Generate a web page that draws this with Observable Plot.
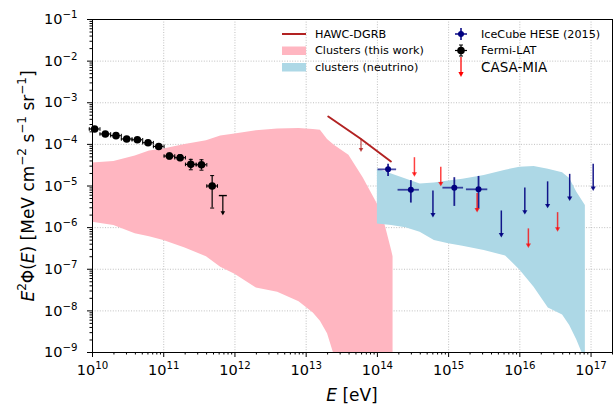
<!DOCTYPE html>
<html>
<head>
<meta charset="utf-8">
<script src="https://cdn.jsdelivr.net/npm/d3@7"></script>
<script src="https://cdn.jsdelivr.net/npm/@observablehq/plot@0.6"></script>
<style>
  html, body { margin: 0; padding: 0; background: #fff; }
  svg { display: block; }
</style>
</head>
<body>
<script>
// ---------- data (log10 values) ----------
const xTickExps = [10, 11, 12, 13, 14, 15, 16, 17];
const yTickExps = [-9, -8, -7, -6, -5, -4, -3, -2, -1];

// Clusters (this work) band
const pinkLogE = [10.0, 10.3, 10.6, 10.8, 11.0, 11.3, 11.6, 11.8, 12.0, 12.3, 12.6, 12.9, 13.1, 13.2, 13.3, 13.4, 13.6, 13.8, 14.0, 14.1, 14.2, 14.22];
const pinkHigh = [-4.45, -4.41, -4.28, -4.16, -4.11, -4.00, -3.91, -3.80, -3.75, -3.67, -3.63, -3.62, -3.64, -3.66, -3.88, -4.03, -4.26, -4.80, -5.43, -5.88, -6.55, -6.70];
const pinkLow  = [-5.87, -5.95, -6.15, -6.22, -6.31, -6.49, -6.70, -6.95, -7.12, -7.45, -7.55, -7.78, -8.05, -8.25, -8.55, -9.10, -12, -12, -12, -12, -12, -12];

// clusters (neutrino) band
const blueLogE = [14.0, 14.2, 14.4, 14.6, 14.8, 15.0, 15.2, 15.5, 15.8, 16.0, 16.2, 16.4, 16.6, 16.7, 16.8, 16.92];
const blueHigh = [-4.59, -4.71, -4.83, -4.95, -4.93, -4.88, -4.84, -4.75, -4.62, -4.55, -4.53, -4.60, -4.68, -4.82, -5.15, -5.47];
const blueLow  = [-5.91, -5.95, -6.00, -6.11, -6.31, -6.39, -6.45, -6.55, -6.68, -7.02, -7.43, -7.93, -8.10, -8.35, -8.70, -9.20];

// HAWC-DGRB
const hawcLogE = [13.31, 13.76, 14.19];
const hawcLogY = [-3.33, -3.86, -4.41];
const hawcULLogE = [13.77];
const hawcULLogY = [-3.87];

// Fermi-LAT
const fermiLogE  = [10.03, 10.18, 10.33, 10.48, 10.63, 10.78, 10.93, 11.08, 11.23, 11.38, 11.53, 11.68];
const fermiLogY  = [-3.63, -3.75, -3.79, -3.87, -3.89, -3.96, -4.05, -4.28, -4.32, -4.48, -4.49, -5.00];
const fermiErrLo = [0.04, 0.04, 0.04, 0.04, 0.04, 0.04, 0.04, 0.07, 0.07, 0.13, 0.13, 0.53];
const fermiErrHi = [0.04, 0.04, 0.04, 0.04, 0.04, 0.04, 0.04, 0.07, 0.07, 0.12, 0.12, 0.25];
const fermiHalfBin = 0.075;
const fermiULLogE = [11.83];
const fermiULLogY = [-5.23];

// IceCube HESE (2015)
const iceLogE  = [14.15, 14.47, 15.08, 15.42];
const iceLogY  = [-4.60, -5.09, -5.04, -5.08];
const iceXLo   = [14.01, 14.29, 14.92, 15.25];
const iceXHi   = [14.27, 14.59, 15.21, 15.55];
const iceYLo   = [-4.77, -5.41, -5.49, -5.55];
const iceYHi   = [-4.48, -4.87, -4.80, -4.77];
const iceULLogE = [14.78, 15.74, 16.07, 16.39, 16.70, 17.03];
const iceULLogY = [-5.12, -5.60, -5.05, -4.90, -4.72, -4.48];

// CASA-MIA
const casaLogE = [14.52, 14.89, 15.40, 16.12, 16.53];
const casaLogY = [-4.32, -4.55, -5.18, -6.03, -5.64];

// ---------- helpers ----------
const P = v => 10 ** v;
const tickLabel = d => "10^" + Math.round(Math.log10(d));

const xMajor = xTickExps.map(P);
const yMajor = yTickExps.map(P);
const xMinor = [];
for (let e = 10; e <= 17; e++) for (let k = 2; k <= 9; k++) { const v = k * 10 ** e; if (v <= 2e17) xMinor.push(v); }
const yMinor = [];
for (let e = -9; e < -1; e++) for (let k = 2; k <= 9; k++) yMinor.push(k * 10 ** e);

const pink = pinkLogE.map((e, i) => ({x: P(e), lo: P(pinkLow[i]), hi: P(pinkHigh[i])}));
const blue = blueLogE.map((e, i) => ({x: P(e), lo: P(blueLow[i]), hi: P(blueHigh[i])}));
const hawc = hawcLogE.map((e, i) => ({x: P(e), y: P(hawcLogY[i])}));
const fermi = fermiLogE.map((e, i) => ({
  x: P(e), y: P(fermiLogY[i]),
  x1: P(e - fermiHalfBin), x2: P(e + fermiHalfBin),
  y1: P(fermiLogY[i] - fermiErrLo[i]), y2: P(fermiLogY[i] + fermiErrHi[i])
}));
const ice = iceLogE.map((e, i) => ({x: P(e), y: P(iceLogY[i]), x1: P(iceXLo[i]), x2: P(iceXHi[i]), y1: P(iceYLo[i]), y2: P(iceYHi[i])}));

function ul(logE, logY, len) {
  return logE.map((e, i) => ({x: P(e), y: P(logY[i]), tip: P(logY[i] - len)}));
}
const fermiUL = ul(fermiULLogE, fermiULLogY, 0.44);
const iceUL = ul(iceULLogE, iceULLogY, 0.60);
const casaUL = ul(casaLogE, casaLogY, 0.42);
const hawcUL = ul(hawcULLogE, hawcULLogY, 0.28);

// custom cap symbols
const hCap = {draw(ctx, size) { const r = Math.sqrt(size / Math.PI); ctx.moveTo(-r, 0); ctx.lineTo(r, 0); }};
const vCap = {draw(ctx, size) { const r = Math.sqrt(size / Math.PI); ctx.moveTo(0, -r); ctx.lineTo(0, r); }};
const downTri = {draw(ctx, size) { const r = Math.sqrt(size / Math.PI); ctx.moveTo(-r, -r * 1.1); ctx.lineTo(r, -r * 1.1); ctx.lineTo(0, r * 0.6); ctx.closePath(); }};

function ulMarks(data, color, opacity, width, headR) {
  return [
    Plot.ruleX(data, {x: "x", y1: "y", y2: "tip", stroke: color, strokeOpacity: opacity, strokeWidth: width}),
    Plot.dot(data, {x: "x", y: "tip", symbol: downTri, r: headR, fill: color, fillOpacity: opacity, stroke: "none"})
  ];
}

const grid = {stroke: "#b0b0b0", strokeOpacity: 1, strokeWidth: 0.8, strokeDasharray: "1,1.6"};

const chart = Plot.plot({
  width: 613,
  height: 406,
  marginLeft: 92,
  marginRight: 1,
  marginTop: 19,
  marginBottom: 54,
  style: {fontFamily: "'DejaVu Sans', sans-serif", background: "#fff", color: "#000"},
  x: {type: "log", domain: [1e10, 2e17], label: null},
  y: {type: "log", domain: [1e-9, 1e-1], label: null},
  marks: [
    Plot.gridX(xMajor, grid),
    Plot.gridY(yMajor, grid),
    Plot.areaY(pink, {x: "x", y1: "lo", y2: "hi", fill: "lightpink", clip: true}),
    Plot.areaY(blue, {x: "x", y1: "lo", y2: "hi", fill: "lightblue", clip: true}),
    Plot.line(hawc, {x: "x", y: "y", stroke: "firebrick", strokeWidth: 2}),
    ...ulMarks(hawcUL, "firebrick", 0.8, 1.2, 2.3),
    // Fermi-LAT
    Plot.ruleY(fermi, {y: "y", x1: "x1", x2: "x2", stroke: "black", strokeWidth: 1.2}),
    Plot.ruleX(fermi, {x: "x", y1: "y1", y2: "y2", stroke: "black", strokeWidth: 1.2}),
    Plot.dot(fermi, {x: "x1", y: "y", symbol: vCap, r: 1.8, stroke: "black", strokeWidth: 1}),
    Plot.dot(fermi, {x: "x2", y: "y", symbol: vCap, r: 1.8, stroke: "black", strokeWidth: 1}),
    Plot.dot(fermi, {x: "x", y: "y1", symbol: hCap, r: 2, stroke: "black", strokeWidth: 1}),
    Plot.dot(fermi, {x: "x", y: "y2", symbol: hCap, r: 2, stroke: "black", strokeWidth: 1}),
    Plot.dot(fermi, {x: "x", y: "y", r: 3.8, fill: "black", stroke: "none"}),
    Plot.ruleX(fermiUL, {x: "x", y1: "y", y2: "tip", stroke: "black", strokeWidth: 1.2}),
    Plot.dot(fermiUL, {x: "x", y: "y", symbol: hCap, r: 4, stroke: "black", strokeWidth: 1.4}),
    Plot.dot(fermiUL, {x: "x", y: "tip", symbol: downTri, r: 2.3, fill: "black", stroke: "none"}),
    // IceCube
    Plot.ruleY(ice, {y: "y", x1: "x1", x2: "x2", stroke: "navy", strokeOpacity: 0.7, strokeWidth: 1.8}),
    Plot.ruleX(ice, {x: "x", y1: "y1", y2: "y2", stroke: "navy", strokeOpacity: 0.85, strokeWidth: 1.8}),
    Plot.dot(ice, {x: "x", y: "y", r: 3, fill: "navy", stroke: "none"}),
    ...ulMarks(iceUL, "navy", 0.9, 1.5, 2.6),
    // CASA-MIA
    ...ulMarks(casaUL, "red", 0.75, 1.5, 2.6),
    // axes
    Plot.axisX(xMajor, {tickSize: 5, tickPadding: 7, tickFormat: tickLabel, fontSize: 14.5, stroke: "black"}),
    Plot.axisX(xMinor, {tickSize: 2.5, tickFormat: () => "", stroke: "black"}),
    Plot.axisY(yMajor, {tickSize: 5, tickPadding: 10, tickFormat: tickLabel, fontSize: 14.5, stroke: "black"}),
    Plot.axisY(yMinor, {tickSize: 2.5, tickFormat: () => "", stroke: "black"}),
    Plot.frame({stroke: "black", strokeWidth: 1})
  ]
});

document.body.appendChild(chart);

// ---------- power-of-ten tick labels with real superscripts ----------
const svg = d3.select(chart);
svg.selectAll("text").each(function () {
  const m = /^10\^(-?\d+)$/.exec(this.textContent);
  if (!m) return;
  const t = d3.select(this);
  t.text(null);
  t.append("tspan").text("10");
  t.append("tspan").attr("font-size", 10.2).attr("baseline-shift", 6).text(m[1].replace("-", "−"));
});

// ---------- axis titles & legend ----------
const font = "'DejaVu Sans', sans-serif";

const yl = svg.append("text")
  .attr("transform", "translate(29,186) rotate(-90)")
  .attr("text-anchor", "middle").attr("dominant-baseline", "middle")
  .attr("font-family", font).attr("font-size", 17).attr("fill", "black");
yl.append("tspan").attr("font-style", "italic").text("E");
yl.append("tspan").attr("baseline-shift", "super").attr("font-size", 12).text("2");
yl.append("tspan").text("Φ(");
yl.append("tspan").attr("font-style", "italic").text("E");
yl.append("tspan").text(") [MeV cm");
yl.append("tspan").attr("baseline-shift", "super").attr("font-size", 12).text("−2");
yl.append("tspan").text(" s");
yl.append("tspan").attr("baseline-shift", "super").attr("font-size", 12).text("−1");
yl.append("tspan").text(" sr");
yl.append("tspan").attr("baseline-shift", "super").attr("font-size", 12).text("−1");
yl.append("tspan").text("]");

const xl = svg.append("text")
  .attr("x", 352).attr("y", 401).attr("text-anchor", "middle")
  .attr("font-family", font).attr("font-size", 17).attr("fill", "black");
xl.append("tspan").attr("font-style", "italic").text("E");
xl.append("tspan").text(" [eV]");

const lg = svg.append("g").attr("font-family", font).attr("fill", "black").attr("text-anchor", "start");
// column 1
lg.append("line").attr("x1", 282).attr("x2", 306).attr("y1", 34).attr("y2", 34).attr("stroke", "firebrick").attr("stroke-width", 2);
lg.append("rect").attr("x", 282).attr("y", 46.5).attr("width", 24).attr("height", 8.5).attr("fill", "lightpink");
lg.append("rect").attr("x", 282).attr("y", 63).attr("width", 24).attr("height", 8.5).attr("fill", "lightblue");
const col1 = [["HAWC-DGRB", 34.5], ["Clusters (this work)", 51], ["clusters (neutrino)", 67.5]];
col1.forEach(([t, y]) => lg.append("text").attr("x", 315).attr("y", y).attr("dominant-baseline", "middle").attr("font-size", 11.2).text(t));
// column 2
const mx = 461;
lg.append("line").attr("x1", mx - 6).attr("x2", mx + 6).attr("y1", 34).attr("y2", 34).attr("stroke", "navy").attr("stroke-opacity", 0.8).attr("stroke-width", 1.8);
lg.append("line").attr("x1", mx).attr("x2", mx).attr("y1", 28).attr("y2", 40).attr("stroke", "navy").attr("stroke-opacity", 0.85).attr("stroke-width", 1.8);
lg.append("circle").attr("cx", mx).attr("cy", 34).attr("r", 3).attr("fill", "navy");
lg.append("line").attr("x1", mx - 6).attr("x2", mx + 6).attr("y1", 50.5).attr("y2", 50.5).attr("stroke", "black").attr("stroke-width", 1.2);
lg.append("line").attr("x1", mx).attr("x2", mx).attr("y1", 45).attr("y2", 56).attr("stroke", "black").attr("stroke-width", 1.2);
lg.append("line").attr("x1", mx - 2).attr("x2", mx + 2).attr("y1", 45).attr("y2", 45).attr("stroke", "black");
lg.append("line").attr("x1", mx - 2).attr("x2", mx + 2).attr("y1", 56).attr("y2", 56).attr("stroke", "black");
lg.append("circle").attr("cx", mx).attr("cy", 50.5).attr("r", 3.8).attr("fill", "black");
lg.append("line").attr("x1", mx).attr("x2", mx).attr("y1", 57).attr("y2", 74).attr("stroke", "red").attr("stroke-opacity", 0.8).attr("stroke-width", 1.6);
lg.append("path").attr("d", `M${mx - 2.6},72 L${mx + 2.6},72 L${mx},77 Z`).attr("fill", "red");
const col2 = [["IceCube HESE (2015)", 34.5, 11.2], ["Fermi-LAT", 51, 11.2], ["CASA-MIA", 67.5, 13.5]];
col2.forEach(([t, y, s]) => lg.append("text").attr("x", 481).attr("y", y).attr("dominant-baseline", "middle").attr("font-size", s).text(t));
</script>
</body>
</html>
